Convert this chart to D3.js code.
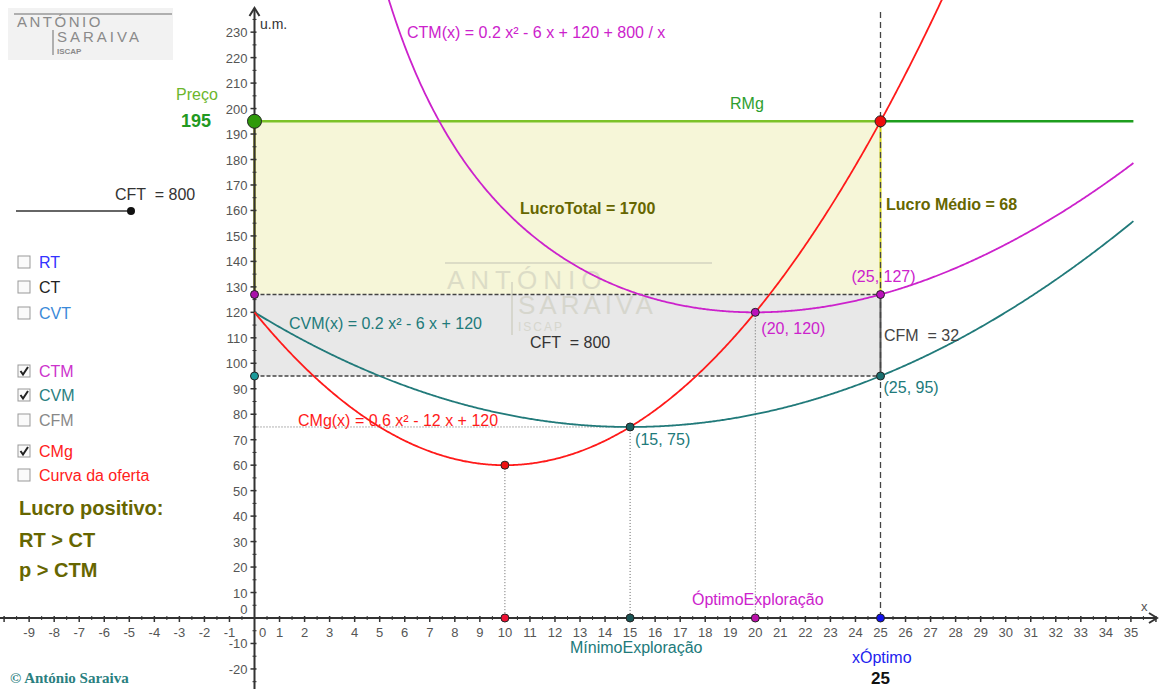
<!DOCTYPE html>
<html>
<head>
<meta charset="utf-8">
<script src="https://cdn.jsdelivr.net/npm/d3@7"></script>
<style>
  html, body { margin: 0; padding: 0; background: #fff; }
  svg { display: block; font-family: "Liberation Sans", Arial, sans-serif; }
  svg text { white-space: pre; }
</style>
</head>
<body>
<div id="chart"></div>
<script>
// chart data
const ctmCoef = [0.2, -6, 120, 800];   // a x² + b x + c + d / x
const cvmCoef = [0.2, -6, 120];        // a x² + b x + c
const cmgCoef = [0.6, -12, 120];
const price = 195;
const xOptimo = 25;
const ctmAtOpt = 127;
const cvmAtOpt = 95;
const minExpl = [15, 75];
const optExpl = [20, 120];
const cmgMin = [10, 60];
const xTickLabels = d3.range(-9, 36);
const yTickLabels = d3.range(-20, 240, 10);
const checkboxes = [
  { label: "RT", color: "#3333ff", checked: false },
  { label: "CT", color: "#222222", checked: false },
  { label: "CVT", color: "#3b8ad9", checked: false },
  { label: "CTM", color: "#cc33cc", checked: true },
  { label: "CVM", color: "#2a8080", checked: true },
  { label: "CFM", color: "#888888", checked: false },
  { label: "CMg", color: "#ff2020", checked: true },
  { label: "Curva da oferta", color: "#ff2020", checked: false }
];
const checkboxY = [262, 287, 313, 371, 395, 420, 451, 475];

const width = 1160;
const height = 689;

const MAG = "#cc22cc", TEAL = "#217a7a", RED = "#ff1a1a", OLIVE = "#666600";

const x = d3.scaleLinear().domain([0, 25]).range([254.5, 880.5]);
const y = d3.scaleLinear().domain([0, 195]).range([618, 121.3]);

const ctm = v => ctmCoef[0] * v * v + ctmCoef[1] * v + ctmCoef[2] + ctmCoef[3] / v;
const cvm = v => cvmCoef[0] * v * v + cvmCoef[1] * v + cvmCoef[2];
const cmg = v => cmgCoef[0] * v * v + cmgCoef[1] * v + cmgCoef[2];

const svg = d3.select("#chart").append("svg")
    .attr("width", width)
    .attr("height", height);

svg.append("clipPath").attr("id", "plot")
  .append("rect").attr("x", 0).attr("y", 0).attr("width", width).attr("height", height);

// top-left logo
const logo = svg.append("g").attr("fill", "#8a8a8a");
logo.append("rect").attr("x", 8).attr("y", 8).attr("width", 165).attr("height", 52).attr("fill", "#f2f2f2");
logo.append("line").attr("x1", 14).attr("x2", 172).attr("y1", 14).attr("y2", 14).attr("stroke", "#999").attr("stroke-width", 1.5);
logo.append("line").attr("x1", 53).attr("x2", 53).attr("y1", 30).attr("y2", 55).attr("stroke", "#999").attr("stroke-width", 1.5);
logo.append("text").attr("x", 17).attr("y", 27).attr("font-size", 15).attr("letter-spacing", 2.5).text("ANTÓNIO");
logo.append("text").attr("x", 57).attr("y", 42).attr("font-size", 15).attr("letter-spacing", 3).text("SARAIVA");
logo.append("text").attr("x", 57).attr("y", 54).attr("font-size", 8).attr("font-weight", "bold").text("ISCAP");

// shaded rectangles
svg.append("rect")
    .attr("x", x(0)).attr("y", y(price))
    .attr("width", x(xOptimo) - x(0)).attr("height", y(ctmAtOpt) - y(price))
    .attr("fill", "#f6f6d8");
svg.append("rect")
    .attr("x", x(0)).attr("y", y(ctmAtOpt))
    .attr("width", x(xOptimo) - x(0)).attr("height", y(cvmAtOpt) - y(ctmAtOpt))
    .attr("fill", "#e8e8e8");

// watermark
const wm = svg.append("g").attr("fill", "#c8c8b8").attr("opacity", 0.55);
wm.append("line").attr("x1", 445).attr("x2", 712).attr("y1", 263).attr("y2", 263).attr("stroke", "#c8c8b8").attr("stroke-width", 2);
wm.append("line").attr("x1", 512).attr("x2", 512).attr("y1", 282).attr("y2", 335).attr("stroke", "#c8c8b8").attr("stroke-width", 2);
wm.append("text").attr("x", 447).attr("y", 289).attr("font-size", 26).attr("letter-spacing", 6).text("ANTÓNIO");
wm.append("text").attr("x", 518).attr("y", 314).attr("font-size", 26).attr("letter-spacing", 4).text("SARAIVA");
wm.append("text").attr("x", 518).attr("y", 331).attr("font-size", 12).attr("letter-spacing", 2).text("ISCAP");

// rectangle borders
svg.append("line")
    .attr("x1", x(0)).attr("x2", x(0)).attr("y1", y(price)).attr("y2", y(ctmAtOpt))
    .attr("stroke", "#b5b530").attr("stroke-width", 2.5);
svg.append("line")
    .attr("x1", x(xOptimo)).attr("x2", x(xOptimo)).attr("y1", y(price)).attr("y2", y(ctmAtOpt))
    .attr("stroke", "#d4d418").attr("stroke-width", 2);
svg.append("line")
    .attr("x1", x(xOptimo)).attr("x2", x(xOptimo)).attr("y1", y(ctmAtOpt)).attr("y2", y(cvmAtOpt))
    .attr("stroke", "#555").attr("stroke-width", 2);
[ctmAtOpt, cvmAtOpt].forEach(v => {
  svg.append("line")
      .attr("x1", x(0)).attr("x2", x(xOptimo)).attr("y1", y(v)).attr("y2", y(v))
      .attr("stroke", "#444").attr("stroke-width", 1.3).attr("stroke-dasharray", "4,2");
});

// vertical dashed line at xOptimo
svg.append("line")
    .attr("x1", x(xOptimo)).attr("x2", x(xOptimo)).attr("y1", 12).attr("y2", y(0))
    .attr("stroke", "#444").attr("stroke-width", 1.3).attr("stroke-dasharray", "6,4");

// dotted guides
const dotted = svg.append("g").attr("stroke", "#666").attr("stroke-width", 1).attr("stroke-dasharray", "1,2");
[cmgMin, minExpl, optExpl].forEach(p => {
  dotted.append("line").attr("x1", x(p[0])).attr("x2", x(p[0])).attr("y1", y(p[1])).attr("y2", y(0));
});
dotted.append("line").attr("x1", x(0)).attr("x2", x(minExpl[0])).attr("y1", y(minExpl[1])).attr("y2", y(minExpl[1]));

// RMg line
svg.append("line")
    .attr("x1", x(0)).attr("x2", x(xOptimo)).attr("y1", y(price)).attr("y2", y(price))
    .attr("stroke", "#7cc228").attr("stroke-width", 2.5);
svg.append("line")
    .attr("x1", x(xOptimo)).attr("x2", x(35.1)).attr("y1", y(price)).attr("y2", y(price))
    .attr("stroke", "#1e9e1e").attr("stroke-width", 2.5);

// axes
const axes = svg.append("g").attr("stroke", "#333").attr("fill", "none");
axes.append("line").attr("x1", 0).attr("x2", 1156).attr("y1", y(0)).attr("y2", y(0)).attr("stroke-width", 2);
axes.append("path").attr("d", `M1149,${y(0) - 5}L1157,${y(0)}L1149,${y(0) + 5}`).attr("stroke-width", 2);
axes.append("line").attr("x1", x(0)).attr("x2", x(0)).attr("y1", height).attr("y2", 9).attr("stroke-width", 2);
axes.append("path").attr("d", `M${x(0) - 5},16L${x(0)},8L${x(0) + 5},16`).attr("stroke-width", 2);

axes.selectAll("line.xt").data(xTickLabels.concat([-10, 36]).filter(d => d !== 0)).join("line")
    .attr("x1", d => x(d)).attr("x2", d => x(d)).attr("y1", y(0) - 2).attr("y2", y(0) + 4).attr("stroke-width", 1.5);
axes.selectAll("line.xm").data(d3.range(-10, 36).map(d => d + 0.5)).join("line")
    .attr("x1", d => x(d)).attr("x2", d => x(d)).attr("y1", y(0) - 2).attr("y2", y(0) + 2).attr("stroke-width", 1);
axes.selectAll("line.yt").data(yTickLabels.filter(d => d !== 0)).join("line")
    .attr("x1", x(0) - 4).attr("x2", x(0) + 2).attr("y1", d => y(d)).attr("y2", d => y(d)).attr("stroke-width", 1.5);
axes.selectAll("line.ym").data(d3.range(-25, 240, 10)).join("line")
    .attr("x1", x(0) - 2).attr("x2", x(0) + 2).attr("y1", d => y(d)).attr("y2", d => y(d)).attr("stroke-width", 1);

const tickText = svg.append("g").attr("fill", "#555").attr("font-size", 13);
tickText.selectAll("text.x").data(xTickLabels).join("text")
    .attr("x", d => d === 0 ? x(d) + 8 : x(d))
    .attr("y", y(0) + 19)
    .attr("text-anchor", "middle")
    .text(d => d);
tickText.selectAll("text.y").data(yTickLabels).join("text")
    .attr("x", x(0) - 7)
    .attr("y", d => d === 0 ? y(0) - 4 : y(d) + 5)
    .attr("text-anchor", "end")
    .text(d => d);
tickText.append("text").attr("x", 260).attr("y", 29).attr("fill", "#333").attr("font-size", 14).text("u.m.");
tickText.append("text").attr("x", 1141).attr("y", 611).text("x");

// curves
const line = d3.line().x(d => x(d[0])).y(d => y(d[1]));
const xs = d3.range(0, 35.1001, 0.05);
const curves = svg.append("g").attr("fill", "none").attr("stroke-width", 1.8).attr("clip-path", "url(#plot)");
curves.append("path")
    .attr("d", line(xs.filter(v => v > 4.5).map(v => [v, ctm(v)]).filter(d => d[1] < 260)))
    .attr("stroke", MAG);
curves.append("path")
    .attr("d", line(xs.map(v => [v, cvm(v)])))
    .attr("stroke", TEAL);
curves.append("path")
    .attr("d", line(xs.map(v => [v, cmg(v)]).filter(d => d[1] < 260)))
    .attr("stroke", RED);

// points
const pts = [
  { p: [0, price], r: 7, fill: "#2f9a0a" },
  { p: [xOptimo, price], r: 5.5, fill: "#ee0e0e" },
  { p: [0, ctmAtOpt], r: 4, fill: "#aa11aa" },
  { p: [0, cvmAtOpt], r: 4, fill: "#1a9a9a" },
  { p: optExpl, r: 4, fill: "#bb11bb" },
  { p: [xOptimo, ctmAtOpt], r: 4, fill: "#bb11bb" },
  { p: [xOptimo, cvmAtOpt], r: 4, fill: "#1a7070" },
  { p: minExpl, r: 4, fill: "#1a6060" },
  { p: cmgMin, r: 4, fill: "#ee1111" },
  { p: [cmgMin[0], 0], r: 4, fill: "#ee1133" },
  { p: [minExpl[0], 0], r: 4, fill: "#1a5555" },
  { p: [optExpl[0], 0], r: 4, fill: "#bb11aa" },
  { p: [xOptimo, 0], r: 4, fill: "#1111ee" }
];
svg.selectAll("circle.pt").data(pts).join("circle")
    .attr("cx", d => x(d.p[0])).attr("cy", d => y(d.p[1])).attr("r", d => d.r)
    .attr("fill", d => d.fill).attr("stroke", "#222").attr("stroke-width", 1);

// chart labels
const lab = (tx, ty, txt, color, opts = {}) => svg.append("text")
    .attr("x", tx).attr("y", ty).attr("fill", color)
    .attr("font-size", opts.size || 16)
    .attr("font-weight", opts.bold ? "bold" : null)
    .attr("font-family", opts.family || null)
    .text(txt);

lab(407, 38, "CTM(x) = 0.2 x² - 6 x + 120 + 800 / x", MAG);
lab(176, 100, "Preço", "#6cb62c");
lab(181, 127, price, "#229922", { size: 18, bold: true });
lab(730, 109, "RMg", "#2e9e2e");
lab(520, 214, "LucroTotal = 1700", OLIVE, { size: 16, bold: true });
lab(886, 210, "Lucro Médio = 68", OLIVE, { size: 16, bold: true });
lab(x(xOptimo) - 29, y(ctmAtOpt) - 13, `(${xOptimo}, ${ctmAtOpt})`, MAG);
lab(289, 329, "CVM(x) = 0.2 x² - 6 x + 120", TEAL);
lab(530, 348, "CFT  = 800", "#333");
lab(x(optExpl[0]) + 6, y(optExpl[1]) + 22, `(${optExpl[0]}, ${optExpl[1]})`, MAG);
lab(884, 341, "CFM  = 32", "#444");
lab(x(xOptimo) + 3, y(cvmAtOpt) + 17, `(${xOptimo}, ${cvmAtOpt})`, TEAL);
lab(298, 426, "CMg(x) = 0.6 x² - 12 x + 120", RED);
lab(x(minExpl[0]) + 5, y(minExpl[1]) + 18, `(${minExpl[0]}, ${minExpl[1]})`, TEAL);
lab(692, 605, "ÓptimoExploração", MAG);
lab(570, 653, "MínimoExploração", TEAL);
lab(852, 663, "xÓptimo", "#2222ee");
lab(871, 684, xOptimo, "#111", { size: 17, bold: true });

// left panel: slider
svg.append("line").attr("x1", 16).attr("x2", 131).attr("y1", 211).attr("y2", 211).attr("stroke", "#333").attr("stroke-width", 1.5);
svg.append("circle").attr("cx", 131).attr("cy", 211).attr("r", 4).attr("fill", "#111");
lab(115, 200, "CFT  = 800", "#333");

// checkboxes
const cb = svg.selectAll("g.cb").data(checkboxes).join("g")
    .attr("transform", (d, i) => `translate(18,${checkboxY[i]})`);
cb.append("rect").attr("x", 0).attr("y", -6).attr("width", 12).attr("height", 12)
    .attr("fill", "#fafafa").attr("stroke", "#999").attr("stroke-width", 1);
cb.filter(d => d.checked).append("path")
    .attr("d", "M2.5,0L5,3.5L10,-4")
    .attr("fill", "none").attr("stroke", "#222").attr("stroke-width", 2);
cb.append("text").attr("x", 21).attr("y", 6).attr("font-size", 16)
    .attr("fill", d => d.color).text(d => d.label);

lab(19, 515, "Lucro positivo:", OLIVE, { size: 20, bold: true });
lab(19, 547, "RT > CT", OLIVE, { size: 20, bold: true });
lab(19, 577, "p > CTM", OLIVE, { size: 20, bold: true });
lab(10, 683, "© António Saraiva", "#2a8080", { size: 15, bold: true, family: "'Liberation Serif', 'DejaVu Serif', serif" });
</script>
</body>
</html>
